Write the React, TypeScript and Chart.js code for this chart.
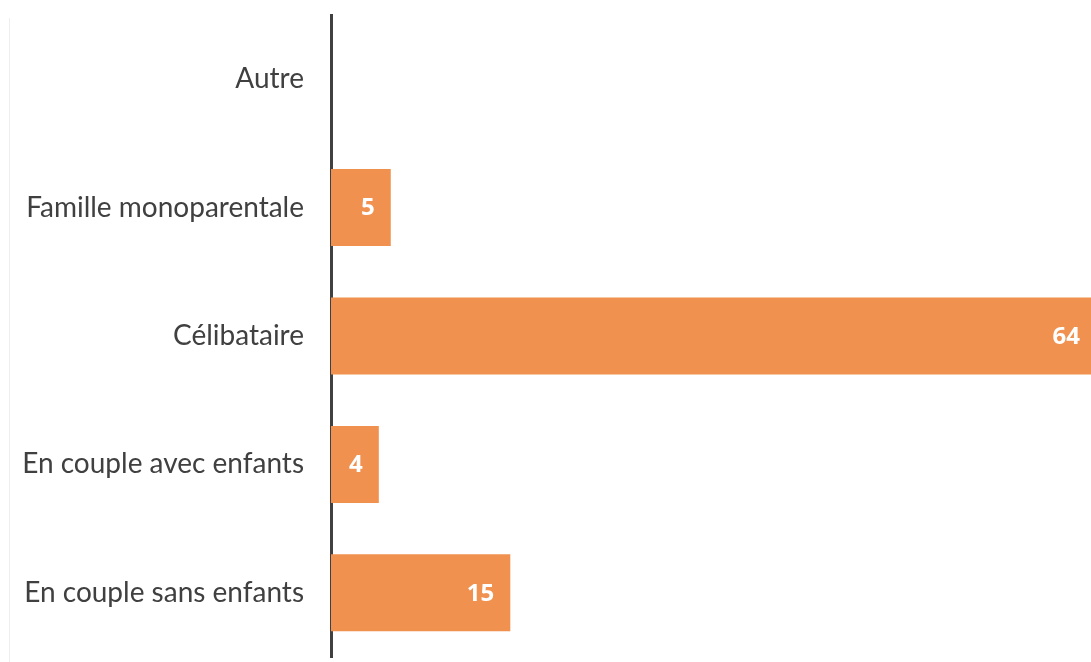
import React, { useEffect, useRef } from "react";
import { Chart, registerables } from "chart.js";

Chart.register(...registerables);

const categories = [
  "Autre",
  "Famille monoparentale",
  "Célibataire",
  "En couple avec enfants",
  "En couple sans enfants",
];
const values = [0, 5, 64, 4, 15];
const barColor = "#F0914F";

export default function App() {
  const ref = useRef<HTMLCanvasElement | null>(null);
  useEffect(() => {
    if (!ref.current) return;
    const valueLabels = {
      id: "valueLabels",
      afterDatasetsDraw(chart: any) {
        const ctx = chart.ctx;
        const meta = chart.getDatasetMeta(0);
        ctx.save();
        ctx.fillStyle = "#ffffff";
        ctx.font = "bold 24px 'Open Sans'";
        ctx.textAlign = "right";
        ctx.textBaseline = "middle";
        meta.data.forEach((bar: any, i: number) => {
          const v = values[i];
          if (!v) return;
          const x = Math.min(bar.x - 16, 1083 - 5);
          ctx.fillText(String(v), x, bar.y + 1);
        });
        ctx.restore();
      },
    };
    const chart = new Chart(ref.current, {
      type: "bar",
      data: {
        labels: categories,
        datasets: [
          {
            data: values,
            backgroundColor: barColor,
            borderWidth: 0,
            barPercentage: 0.6,
            categoryPercentage: 1,
          },
        ],
      },
      options: {
        indexAxis: "y",
        responsive: false,
        animation: false,
        layout: { padding: { top: 7, bottom: 5, left: 0, right: 0 } },
        plugins: { legend: { display: false }, tooltip: { enabled: false } },
        scales: {
          x: { display: false, min: 0, max: 64 },
          y: {
            grid: { display: false, drawTicks: false },
            border: { display: true, color: "#404040", width: 3 },
            ticks: {
              color: "#404040",
              padding: 27,
              font: { family: "Lato", size: 28 },
            },
            afterFit(scale: any) {
              scale.width = 323;
              scale.paddingTop = 0;
              scale.paddingBottom = 0;
              scale.paddingLeft = 0;
              scale.paddingRight = 0;
            },
          },
        },
      },
      plugins: [valueLabels],
    });
    return () => chart.destroy();
  }, []);
  return (
    <div
      style={{
        position: "fixed",
        left: 8,
        top: 8,
        width: 1083,
        height: 654,
        overflow: "hidden",
      }}
    >
      <div
        style={{
          position: "absolute",
          left: 1,
          top: 10,
          bottom: 0,
          width: 1,
          background: "#eeeeee",
        }}
      />
      <canvas ref={ref} width={1088} height={654} style={{ display: "block" }} />
    </div>
  );
}
